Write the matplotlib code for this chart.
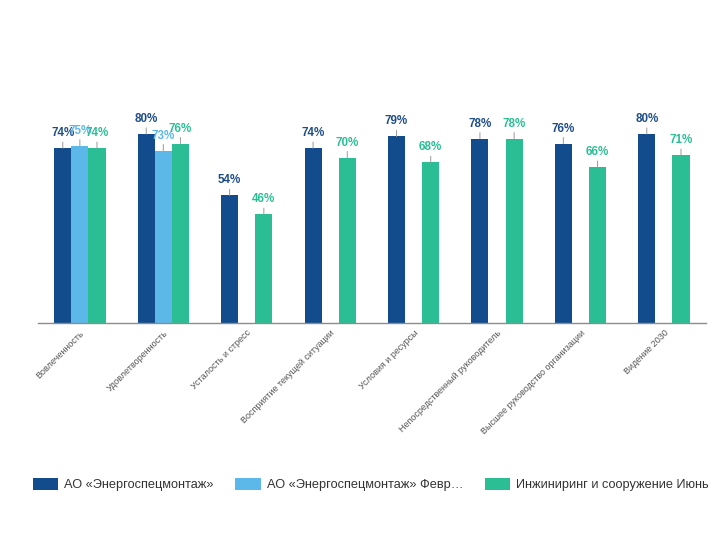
import matplotlib
matplotlib.use("Agg")
import matplotlib.pyplot as plt
import numpy as np

plt.rcParams['font.family'] = ['Liberation Sans', 'DejaVu Sans']

categories = ["Вовлеченность", "Удовлетворенность", "Усталость и стресс",
              "Восприятие текущей ситуации", "Условия и ресурсы",
              "Непосредственный руководитель", "Высшее руководство организации",
              "Видение 2030"]
series_names = ["АО «Энергоспецмонтаж»", "АО «Энергоспецмонтаж» Февр…",
                "Инжиниринг и сооружение Июнь"]
s1 = [74, 80, 54, 74, 79, 78, 76, 80]
s2 = [75, 73, None, None, None, None, None, None]
s3 = [74, 76, 46, 70, 68, 78, 66, 71]

bar_colors = ["#124C8C", "#5CB8E8", "#2BBE95"]
label_colors = ["#1E4D88", "#5CB8E8", "#2BBE95"]

fig = plt.figure(figsize=(7.2, 5.4), dpi=100)
ax = fig.add_axes([0.053, 0.402, 0.927, 0.437])

x = np.arange(len(categories))
w = 0.205
offsets = [-w, 0, w]
handles = []
for i, (vals, name) in enumerate(zip([s1, s2, s3], series_names)):
    xs = [xi + offsets[i] for xi, v in zip(x, vals) if v is not None]
    vs = [v for v in vals if v is not None]
    b = ax.bar(xs, vs, width=w, color=bar_colors[i], label=name)
    handles.append(b)
    for xx, v in zip(xs, vs):
        ax.annotate(f"{v}%", xy=(xx, v), xytext=(0, 10.8), textcoords="offset points",
                    ha="center", va="center", fontsize=8.4, fontweight="bold",
                    color=label_colors[i],
                    arrowprops=dict(arrowstyle="-", color="#9A9A9A", lw=0.7,
                                    shrinkA=0, shrinkB=0))

ax.set_xlim(-0.5, len(categories) - 0.5)
ax.set_ylim(0, 100)
ax.set_yticks([])
for sp in ["top", "right", "left"]:
    ax.spines[sp].set_visible(False)
ax.spines["bottom"].set_color("#8C8C8C")
ax.spines["bottom"].set_linewidth(1.0)
ax.set_xticks(x)
ax.set_xticklabels(categories, rotation=45, ha="right", va="top",
                   rotation_mode="anchor", fontsize=6.5, color="#555555")
ax.tick_params(axis="x", length=0, pad=4)

leg = fig.legend(handles=handles, labels=series_names, loc="center",
                 bbox_to_anchor=(0.515, 0.102), ncol=3, frameon=False,
                 fontsize=9.2, handlelength=2.0, handleheight=1.0,
                 handletextpad=0.45, columnspacing=1.7)
for t in leg.get_texts():
    t.set_color("#333333")

fig.savefig("out.png", dpi=100)
